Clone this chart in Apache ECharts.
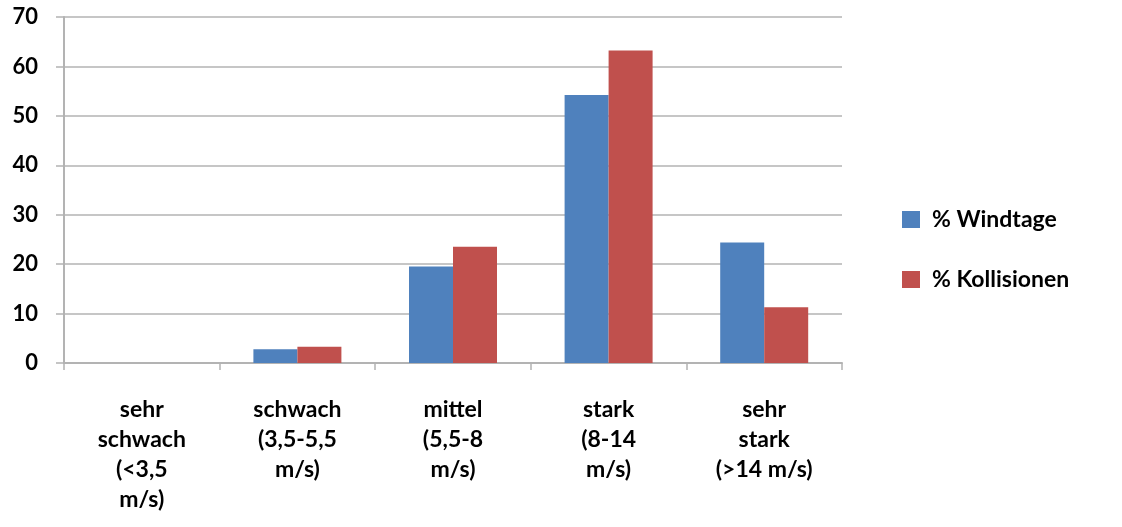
<!DOCTYPE html>
<html>
<head>
<meta charset="utf-8">
<script src="https://cdn.jsdelivr.net/npm/echarts@6/dist/echarts.min.js"></script>
<style>
html,body{margin:0;padding:0;background:#fff;}
#chart{width:1122px;height:527px;}
</style>
</head>
<body>
<div id="chart"></div>
<script>
const categories = [
  "sehr\nschwach\n(<3,5\nm/s)",
  "schwach\n(3,5-5,5\nm/s)",
  "mittel\n(5,5-8\nm/s)",
  "stark\n(8-14\nm/s)",
  "sehr\nstark\n(>14 m/s)"
];
const seriesNames = ["% Windtage", "% Kollisionen"];
const windtage = [0, 2.8, 19.5, 54.2, 24.4];
const kollisionen = [0, 3.3, 23.5, 63.2, 11.3];
const yTicks = { min: 0, max: 70, interval: 10 };

const FONT = 'Lato';
const chart = echarts.init(document.getElementById('chart'));
chart.setOption({
  animation: false,
  textStyle: { fontFamily: FONT },
  grid: { left: 64, right: 280, top: 17, bottom: 164 },
  legend: {
    orient: 'vertical',
    left: 897,
    top: 203,
    itemWidth: 18,
    itemHeight: 17,
    itemGap: 37,
    icon: 'rect',
    textStyle: { fontFamily: FONT, fontWeight: 'bold', fontSize: 23, color: '#000', padding: [0, 0, 0, 7] },
    data: seriesNames
  },
  xAxis: {
    type: 'category',
    data: categories,
    axisLine: { show: true, lineStyle: { color: '#b3b3b3', width: 2 } },
    axisTick: { show: true, length: 7, alignWithLabel: false, lineStyle: { color: '#b3b3b3', width: 1.5 } },
    axisLabel: { interval: 0, margin: 32, fontFamily: FONT, fontWeight: 'bold', fontSize: 23, color: '#000', lineHeight: 30, align: 'center', verticalAlign: 'top' }
  },
  yAxis: {
    type: 'value',
    min: yTicks.min, max: yTicks.max, interval: yTicks.interval,
    axisLine: { show: true, lineStyle: { color: '#b3b3b3', width: 2 } },
    axisTick: { show: true, length: 8, lineStyle: { color: '#b3b3b3', width: 1.5 } },
    splitLine: { show: true, lineStyle: { color: '#b3b3b3', width: 1.5 } },
    axisLabel: { margin: 26, fontFamily: FONT, fontWeight: 'bold', fontSize: 22, color: '#000' }
  },
  series: [
    { name: seriesNames[0], type: 'bar', data: windtage, barWidth: 44, barGap: '0%', itemStyle: { color: '#4F81BD' } },
    { name: seriesNames[1], type: 'bar', data: kollisionen, barWidth: 44, barGap: '0%', itemStyle: { color: '#C0504D' } }
  ]
});
</script>
</body>
</html>
